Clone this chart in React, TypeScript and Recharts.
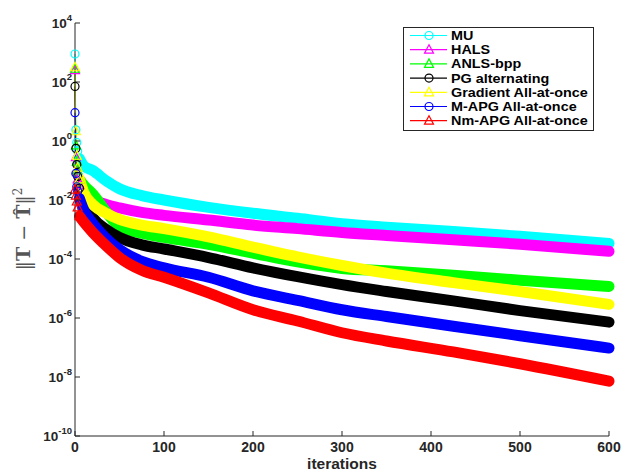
import React from 'react'
import { LineChart, Line, XAxis, YAxis, Legend } from 'recharts'

const iterations = [0, 1, 2, 3, 5, 10, 20, 35, 50, 75, 100, 150, 200, 250, 300, 350, 425, 500, 600]

// log10 of the reconstruction error
const muLog = [2.95, 0.38, -0.05, -0.35, -0.6, -0.85, -1.0, -1.35, -1.62, -1.85, -2.0, -2.25, -2.45, -2.62, -2.8, -2.92, -3.07, -3.23, -3.47]
const halsLog = [2.4, -0.55, -1.0, -1.3, -1.5, -1.75, -1.98, -2.15, -2.27, -2.42, -2.52, -2.68, -2.85, -2.97, -3.1, -3.2, -3.35, -3.5, -3.74]
const anlsLog = [2.45, -0.15, -0.7, -1.0, -1.3, -1.5, -1.8, -2.4, -2.9, -3.12, -3.27, -3.5, -3.8, -4.1, -4.32, -4.4, -4.55, -4.72, -4.93]
const pgLog = [1.85, -0.25, -0.8, -1.2, -1.6, -2.1, -2.6, -3.0, -3.27, -3.52, -3.66, -3.95, -4.3, -4.6, -4.87, -5.1, -5.42, -5.75, -6.14]
const gradLog = [2.5, 0.33, -0.5, -0.9, -1.3, -1.75, -2.15, -2.45, -2.66, -2.85, -2.97, -3.25, -3.6, -3.93, -4.22, -4.48, -4.8, -5.1, -5.54]
const mapgLog = [0.96, -1.1, -1.55, -1.7, -1.95, -2.35, -2.8, -3.3, -3.68, -4.08, -4.3, -4.62, -5.08, -5.4, -5.72, -5.95, -6.28, -6.6, -7.02]
const nmapgLog = [-1.65, -1.85, -2.05, -2.25, -2.55, -2.75, -3.1, -3.55, -3.95, -4.38, -4.62, -5.15, -5.72, -6.1, -6.5, -6.78, -7.15, -7.55, -8.14]

const xTicks = [0, 100, 200, 300, 400, 500, 600]
const yTicks = [4, 2, 0, -2, -4, -6, -8, -10]

const series = [
  { key: 'mu', name: 'MU', color: '#00ffff', shape: 'circle', values: muLog },
  { key: 'hals', name: 'HALS', color: '#ff00ff', shape: 'triangle', values: halsLog },
  { key: 'anls', name: 'ANLS-bpp', color: '#00ff00', shape: 'triangle', values: anlsLog },
  { key: 'pg', name: 'PG alternating', color: '#000000', shape: 'circle', values: pgLog },
  { key: 'grad', name: 'Gradient All-at-once', color: '#ffff00', shape: 'triangle', values: gradLog },
  { key: 'mapg', name: 'M-APG All-at-once', color: '#0000ff', shape: 'circle', values: mapgLog },
  { key: 'nmapg', name: 'Nm-APG All-at-once', color: '#ff0000', shape: 'triangle', values: nmapgLog },
]

// first few iterations drawn as thin line + markers, the rest as a thick band
const HEAD_END = 5
const rows = iterations.map((it, i) => {
  const row: Record<string, number | null> = { it }
  series.forEach((s) => {
    row[s.key + 'Head'] = it <= HEAD_END ? s.values[i] : null
    row[s.key + 'Tail'] = it >= HEAD_END ? s.values[i] : null
  })
  return row
})

const FONT = "'Liberation Sans', Arial, sans-serif"
const INK = '#262626'

function Marker({ cx, cy, color, shape }: any) {
  if (!Number.isFinite(cx) || !Number.isFinite(cy)) return null
  if (shape === 'circle')
    return <circle cx={cx} cy={cy} r={4} fill="none" stroke={color} strokeWidth={1.2} />
  return (
    <polygon
      points={`${cx},${cy - 5} ${cx - 4.5},${cy + 3.5} ${cx + 4.5},${cy + 3.5}`}
      fill="none"
      stroke={color}
      strokeWidth={1.2}
    />
  )
}

const BottomTick = ({ x, y, payload }: any) => (
  <g>
    <line x1={x} x2={x} y1={y} y2={y - 5} stroke={INK} />
    <text x={x} y={y + 16} textAnchor="middle" fontFamily={FONT} fontWeight="bold" fontSize={14} fill={INK}>
      {payload.value}
    </text>
  </g>
)

const TopTick = ({ x, y }: any) => <line x1={x} x2={x} y1={y} y2={y + 5} stroke={INK} />

const LeftTick = ({ x, y, payload }: any) => (
  <g>
    <line x1={x} x2={x + 5} y1={y} y2={y} stroke={INK} />
    <text x={x - 3} y={y + 5} textAnchor="end" fontFamily={FONT} fontWeight="bold" fontSize={13.5} fill={INK}>
      10
      <tspan dy={-7} fontSize={9.5}>{payload.value}</tspan>
    </text>
  </g>
)

const RightTick = ({ x, y }: any) => <line x1={x} x2={x - 5} y1={y} y2={y} stroke={INK} />

const XLabel = () => (
  <text x={342} y={469} textAnchor="middle" fontFamily={FONT} fontWeight="bold" fontSize={15.5} fill={INK}>
    iterations
  </text>
)

const YLabel = () => (
  <text
    transform="translate(30,229) rotate(-90)"
    textAnchor="middle"
    fontFamily="'DejaVu Serif', serif"
    fontSize={19}
    fill="#555"
  >
    ‖<tspan fontWeight="bold">T</tspan> − <tspan fontWeight="bold">T̂</tspan>‖
    <tspan dy={-8} fontSize={12}>2</tspan>
  </text>
)

const LegendBox = () => (
  <svg width={191} height={104} style={{ display: 'block' }}>
    <rect x={0.5} y={0.5} width={190} height={103} fill="#fff" stroke={INK} />
    {series.map((s, i) => {
      const y = 8.5 + i * 14.2
      return (
        <g key={s.key}>
          <line x1={7} x2={44} y1={y} y2={y} stroke={s.color} strokeWidth={1.2} />
          <Marker cx={26} cy={y} color={s.color} shape={s.shape} />
          <text
            transform={`translate(48,${y + 4.5}) scale(1.15,1)`}
            fontFamily={FONT}
            fontWeight="bold"
            fontSize={12.5}
            fill="#000"
          >
            {s.name}
          </text>
        </g>
      )
    })}
  </svg>
)

export default function App() {
  return (
    <div style={{ position: 'absolute', left: 0, top: 0, width: 622, height: 475, background: '#fff' }}>
      <LineChart width={622} height={475} data={rows} margin={{ top: 23, right: 13, bottom: 9, left: 15 }}>
        <XAxis
          dataKey="it"
          type="number"
          domain={[0, 600]}
          ticks={xTicks}
          interval={0}
          height={30}
          tickSize={0}
          tickMargin={0}
          tickLine={false}
          stroke={INK}
          tick={(p: any) => <BottomTick {...p} />}
          label={<XLabel />}
        />
        <XAxis
          xAxisId="top"
          orientation="top"
          dataKey="it"
          type="number"
          domain={[0, 600]}
          ticks={xTicks}
          interval={0}
          height={0}
          tickSize={0}
          tickMargin={0}
          tickLine={false}
          stroke={INK}
          tick={(p: any) => <TopTick {...p} />}
        />
        <YAxis
          type="number"
          domain={[-10, 4]}
          ticks={yTicks}
          interval={0}
          width={60}
          tickSize={0}
          tickMargin={0}
          tickLine={false}
          stroke={INK}
          tick={(p: any) => <LeftTick {...p} />}
          label={<YLabel />}
        />
        <YAxis
          yAxisId="right"
          orientation="right"
          type="number"
          domain={[-10, 4]}
          ticks={yTicks}
          interval={0}
          width={0}
          tickSize={0}
          tickMargin={0}
          tickLine={false}
          stroke={INK}
          tick={(p: any) => <RightTick {...p} />}
        />
        <Legend
          layout="vertical"
          align="center"
          verticalAlign="middle"
          wrapperStyle={{ position: 'absolute', left: 403, top: 27, width: 191, height: 104 }}
          content={() => <LegendBox />}
        />
        {series.map((s) => (
          <Line
            key={s.key + 'Tail'}
            type="monotone"
            dataKey={s.key + 'Tail'}
            name={s.name}
            stroke={s.color}
            strokeWidth={11}
            strokeLinejoin="round"
            strokeLinecap="round"
            dot={false}
            activeDot={false}
            legendType="none"
            isAnimationActive={false}
          />
        ))}
        {series.map((s) => (
          <Line
            key={s.key + 'Head'}
            dataKey={s.key + 'Head'}
            name={s.name}
            stroke={s.color}
            strokeWidth={1}
            dot={(p: any) => <Marker key={s.key + p.index} cx={p.cx} cy={p.cy} color={s.color} shape={s.shape} />}
            activeDot={false}
            legendType="none"
            isAnimationActive={false}
          />
        ))}
      </LineChart>
    </div>
  )
}
